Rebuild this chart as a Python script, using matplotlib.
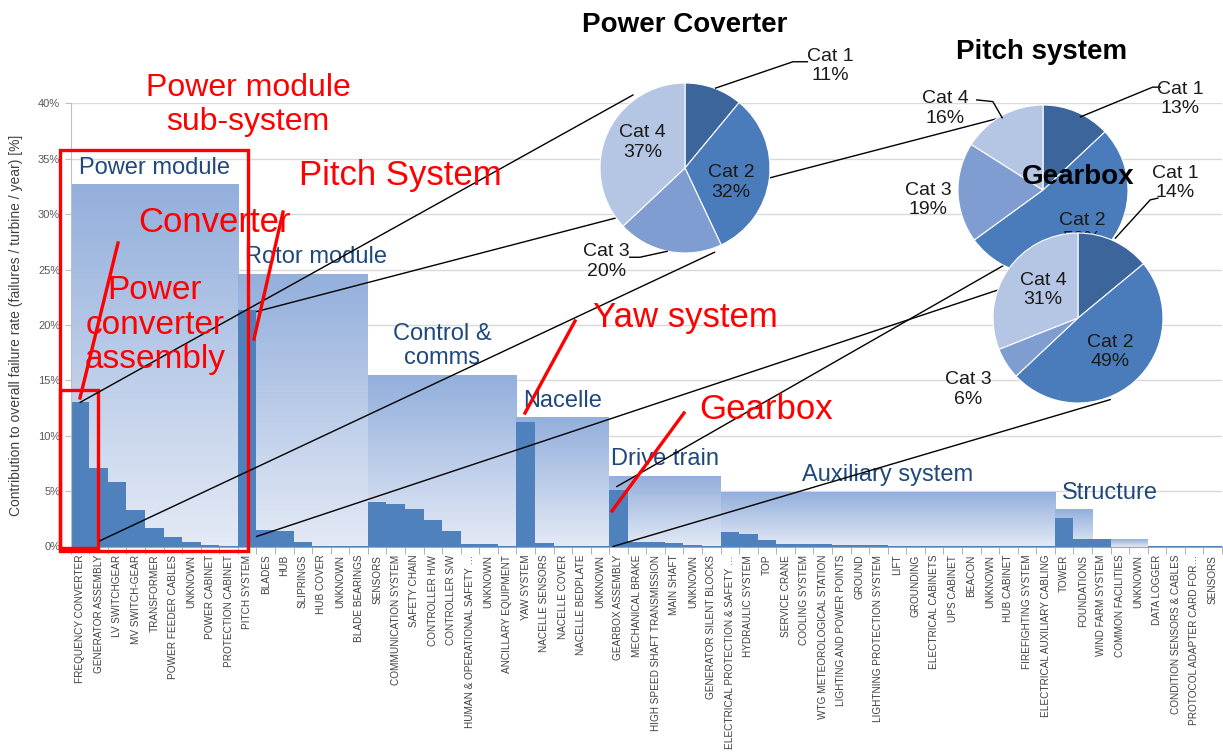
import numpy as np
import matplotlib.pyplot as plt
from matplotlib.patches import ConnectionPatch, Rectangle
from matplotlib.lines import Line2D
from matplotlib.colors import LinearSegmentedColormap

plt.rcParams['font.family'] = ['Liberation Sans', 'DejaVu Sans']

W, H = 1223, 753

# sub-assemblies on the x axis, grouped by module
components = [
    'FREQUENCY CONVERTER', 'GENERATOR ASSEMBLY', 'LV SWITCHGEAR', 'MV SWITCH-GEAR', 'TRANSFORMER',
    'POWER FEEDER CABLES', 'UNKNOWN', 'POWER CABINET', 'PROTECTION CABINET',
    'PITCH SYSTEM', 'BLADES', 'HUB', 'SLIPRINGS', 'HUB COVER', 'UNKNOWN', 'BLADE BEARINGS',
    'SENSORS', 'COMMUNICATION SYSTEM', 'SAFETY CHAIN', 'CONTROLLER H/W', 'CONTROLLER S/W',
    'HUMAN & OPERATIONAL SAFETY …', 'UNKNOWN', 'ANCILLARY EQUIPMENT',
    'YAW SYSTEM', 'NACELLE SENSORS', 'NACELLE COVER', 'NACELLE BEDPLATE', 'UNKNOWN',
    'GEARBOX ASSEMBLY', 'MECHANICAL BRAKE', 'HIGH SPEED SHAFT TRANSMISSION', 'MAIN SHAFT', 'UNKNOWN',
    'GENERATOR SILENT BLOCKS',
    'ELECTRICAL PROTECTION & SAFETY …', 'HYDRAULIC SYSTEM', 'TOP', 'SERVICE CRANE', 'COOLING SYSTEM',
    'WTG METEOROLOGICAL STATION', 'LIGHTING AND POWER POINTS', 'GROUND', 'LIGHTNING PROTECTION SYSTEM',
    'LIFT', 'GROUNDING', 'ELECTRICAL CABINETS', 'UPS CABINET', 'BEACON', 'UNKNOWN', 'HUB CABINET',
    'FIREFIGHTING SYSTEM', 'ELECTRICAL AUXILIARY CABLING',
    'TOWER', 'FOUNDATIONS',
    'WIND FARM SYSTEM', 'COMMON FACILITIES', 'UNKNOWN',
    'DATA LOGGER', 'CONDITION SENSORS & CABLES', 'PROTOCOL ADAPTER CARD FOR…', 'SENSORS']

failure_share = [
    13.0, 7.1, 5.85, 3.25, 1.7, 0.9, 0.45, 0.15, 0.08,
    21.3, 1.45, 1.4, 0.4, 0.05, 0.02, 0.02,
    4.05, 3.8, 3.35, 2.4, 1.4, 0.2, 0.2, 0.02,
    11.2, 0.3, 0.02, 0.02, 0.01,
    5.1, 0.45, 0.45, 0.3, 0.1, 0.02,
    1.28, 1.13, 0.6, 0.25, 0.25, 0.25, 0.15, 0.1, 0.1, 0.08, 0.05, 0.04, 0.03, 0.03, 0.02, 0.02, 0.01, 0.01,
    2.6, 0.7,
    0.68, 0.0, 0.0,
    0.02, 0.01, 0.01, 0.01]

groups = ['Power module', 'Rotor module', 'Control &\ncomms', 'Nacelle', 'Drive train',
          'Auxiliary system', 'Structure', '', '']
group_sizes = [9, 7, 8, 5, 6, 18, 2, 3, 4]
group_totals = [32.7, 24.6, 15.5, 11.65, 6.4, 4.95, 3.35, 0.68, 0.05]
group_align = ['center', 'left', 'center', 'center', 'center', 'center', 'left', 'center', 'center']

pie_cats = ['Cat 1', 'Cat 2', 'Cat 3', 'Cat 4']
power_conv_pct = [11, 32, 20, 37]
pitch_pct = [13, 52, 19, 16]
gearbox_pct = [14, 49, 6, 31]
pie_colors = ['#3b659b', '#4a7cbb', '#7f9dd0', '#b5c6e4']


def fx(px, py):
    return px / W, 1 - py / H


fig = plt.figure(figsize=(W / 100, H / 100), dpi=100)
ax = fig.add_axes([70.7 / W, 1 - 546.5 / H, (1222 - 70.7) / W, 443.2 / H])

x = np.arange(len(components))
env_cmap = LinearSegmentedColormap.from_list('env', ['#e4eaf6', '#93afdc'])
grad = np.linspace(1, 0, 256).reshape(-1, 1)
starts = np.cumsum([0] + group_sizes[:-1])
for s, n, tot, name, al in zip(starts, group_sizes, group_totals, groups, group_align):
    ax.imshow(grad, extent=[s - 0.5, s + n - 0.5, 0, tot], aspect='auto', cmap=env_cmap,
              vmin=0, vmax=1, zorder=1)
    if name:
        tx = s + (n - 1) / 2 if al == 'center' else s - 0.5 + 0.38
        ax.text(tx, tot + 0.5, name, ha=al, va='bottom', fontsize=17, color='#1f497d',
                multialignment='center', linespacing=1.15, zorder=4)

ax.bar(x, failure_share, width=1.0, color='#4f81bd', zorder=2)

ax.set_xlim(-0.5, len(components) - 0.5)
ax.set_ylim(0, 40)
ax.set_yticks(range(0, 41, 5))
ax.set_yticklabels([f'{v}%' for v in range(0, 41, 5)], fontsize=8, color='#595959')
ax.yaxis.grid(True, color='#d9d9d9', lw=1)
ax.set_axisbelow(True)
ax.set_xticks(x)
ax.set_xticklabels(components, rotation=90, fontsize=7.2, color='#404040')
ax.set_xticks(np.arange(-0.5, len(components)), minor=True)
ax.tick_params(axis='x', which='major', length=0, pad=6)
ax.tick_params(axis='x', which='minor', length=5, color='#a6a6a6')
ax.tick_params(axis='y', length=4, color='#bfbfbf')
for sp in ['top', 'right']:
    ax.spines[sp].set_visible(False)
ax.spines['left'].set_color('#bfbfbf')
ax.spines['bottom'].set_color('#a6a6a6')
ax.set_ylabel('Contribution to overall failure rate (failures / turbine / year) [%]',
              fontsize=10, color='#404040')
ax.yaxis.set_label_coords(-0.041, 0.5)

# red highlight boxes around the power module and the converter bar
ax.add_patch(Rectangle((-1.08, -0.4), 10.13, 36.2, fill=False, ec='red', lw=2.4,
                       clip_on=False, zorder=6))
ax.add_patch(Rectangle((-1.08, -0.15), 2.05, 14.25, fill=False, ec='red', lw=2.4,
                       clip_on=False, zorder=6))


def add_pie(cx, cy, vals, z):
    pa = fig.add_axes([(cx - 85) / W, 1 - (cy + 85) / H, 170 / W, 170 / H], zorder=z)
    pa.pie(vals, colors=pie_colors, startangle=90, counterclock=False, radius=1,
           wedgeprops=dict(edgecolor='white', linewidth=0.8))
    pa.set_xlim(-1, 1)
    pa.set_ylim(-1, 1)
    pa.set_aspect('equal')
    pa.axis('off')
    return pa


def pie_label(pa, i, vals, px, py):
    pa.text(px, py, f'{pie_cats[i]}\n{vals[i]}%', ha='center', va='center', fontsize=14,
            color='#1a1a1a', clip_on=False)


def leader(pa, xs, ys):
    pa.plot(xs, ys, color='black', lw=1, clip_on=False)


pc = add_pie(685, 168, power_conv_pct, 3)
ps = add_pie(1043, 190, pitch_pct, 4)
gb = add_pie(1078, 318, gearbox_pct, 5)

pie_label(pc, 0, power_conv_pct, 1.71, 1.2)
pie_label(pc, 1, power_conv_pct, 0.54, -0.17)
pie_label(pc, 2, power_conv_pct, -0.92, -1.1)
pie_label(pc, 3, power_conv_pct, -0.5, 0.3)
leader(pc, [0.36, 1.27, 1.44], [0.94, 1.25, 1.25])
leader(pc, [-0.21, -0.53, -0.65], [-0.98, -1.05, -1.05])

pie_label(ps, 0, pitch_pct, 1.61, 1.07)
pie_label(ps, 1, pitch_pct, 0.46, -0.47)
pie_label(ps, 2, pitch_pct, -1.35, -0.12)
pie_label(ps, 3, pitch_pct, -1.15, 0.96)
leader(ps, [0.44, 1.29, 1.38], [0.86, 1.21, 1.21])
leader(ps, [-0.78, -0.59, -0.48], [1.06, 1.04, 0.85])

pie_label(gb, 0, gearbox_pct, 1.14, 1.59)
pie_label(gb, 1, gearbox_pct, 0.38, -0.4)
pie_label(gb, 2, gearbox_pct, -1.29, -0.84)
pie_label(gb, 3, gearbox_pct, -0.41, 0.33)
leader(gb, [0.44, 0.85, 0.94], [0.94, 1.39, 1.41])

fig.text(*fx(685, 25), 'Power Coverter', ha='center', va='center', fontsize=20,
         fontweight='bold', zorder=7)
fig.text(*fx(1042, 52), 'Pitch system', ha='center', va='center', fontsize=20,
         fontweight='bold', zorder=7)
fig.text(*fx(1078, 177), 'Gearbox', ha='center', va='center', fontsize=20,
         fontweight='bold', zorder=7)

# zoom lines from the bars to their pies
links = [((0, 13.0), pc, (-0.61, 0.86)), ((1.05, 0.5), pc, (0.35, -0.99)),
         ((9.5, 21.2), ps, (-0.5, 0.85)), ((9.5, 0.9), ps, (0.0, -1.0)),
         ((28.9, 5.4), gb, (-0.68, 0.73)), ((28.7, 0.0), gb, (0.38, -0.96))]
for xyA, pa, xyB in links:
    con = ConnectionPatch(xyA=xyA, coordsA=ax.transData, xyB=xyB, coordsB=pa.transData,
                          color='black', lw=1, zorder=2)
    fig.add_artist(con)

# red call-outs
red_texts = [(248, 105, 'Power module\nsub-system', 23, 1.2), (400, 175, 'Pitch System', 25, 1.0),
             (215, 222, 'Converter', 25, 1.0), (155, 325, 'Power\nconverter\nassembly', 24, 1.15),
             (685, 317, 'Yaw system', 25, 1.0), (766, 410, 'Gearbox', 25, 1.0)]
for px, py, t, fs, lsp in red_texts:
    fig.text(*fx(px, py), t, ha='center', va='center', fontsize=fs, color='red',
             linespacing=lsp, zorder=6)

red_pointers = [((118, 243), (80, 398)), ((283, 212), (254, 339)),
                ((575, 321), (525, 413)), ((684, 413), (612, 511))]
for p1, p2 in red_pointers:
    a, b = fx(*p1), fx(*p2)
    fig.add_artist(Line2D([a[0], b[0]], [a[1], b[1]], transform=fig.transFigure,
                          color='red', lw=2.4, zorder=6))

fig.savefig('out.png', dpi=100)
